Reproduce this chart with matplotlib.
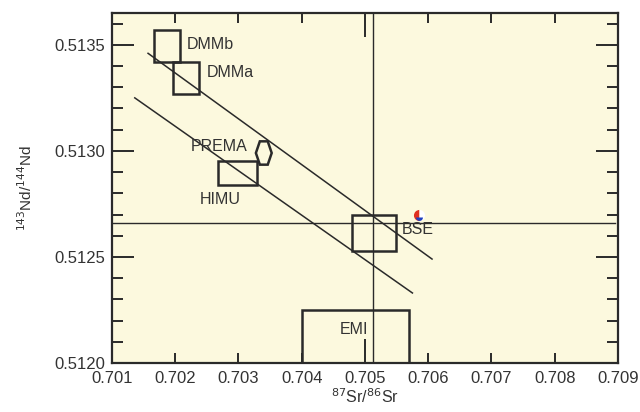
import matplotlib
matplotlib.use("Agg")
import matplotlib.pyplot as plt
from matplotlib.patches import Rectangle, Polygon
from matplotlib.ticker import MultipleLocator

plt.rcParams['font.family'] = ['Liberation Sans', 'DejaVu Sans']

# Reservoir boxes: name, x0, x1, y0, y1
box_names = ['DMMb', 'DMMa', 'HIMU', 'BSE', 'EMI']
box_x0 = [0.70166, 0.70196, 0.70267, 0.70479, 0.70400]
box_x1 = [0.70207, 0.70237, 0.70329, 0.70549, 0.70569]
box_y0 = [0.51342, 0.51327, 0.51284, 0.51253, 0.51200]
box_y1 = [0.51357, 0.51342, 0.51295, 0.51270, 0.51225]

# PREMA hexagon (centre and half-sizes)
prema_x, prema_y = 0.70340, 0.51299
prema_hw, prema_hh = 0.000125, 0.000055

# Mantle array lines
line1_x = [0.70157, 0.70606]
line1_y = [0.51346, 0.51249]
line2_x = [0.70136, 0.70575]
line2_y = [0.51325, 0.51233]

# Reference lines (BSE values)
bse_sr = 0.70513
bse_nd = 0.51266

# Sample point
pt_x, pt_y = 0.70585, 0.51270

# Labels
label_text = ['DMMb', 'DMMa', 'PREMA', 'HIMU', 'BSE', 'EMI']
label_x = [0.70218, 0.70250, 0.70315, 0.70239, 0.70558, 0.70482]
label_y = [0.51350, 0.51337, 0.51302, 0.51277, 0.51263, 0.51216]
label_ha = ['left', 'left', 'right', 'left', 'left', 'center']

fig = plt.figure(figsize=(6.4, 4.12), dpi=100)
ax = fig.add_axes([0.175, 0.119, 0.7906, 0.8494])
ax.set_facecolor('#fcf9de')
ax.set_xlim(0.701, 0.709)
ax.set_ylim(0.5120, 0.51365)

lc = '#2a2a2a'
for x0, x1, y0, y1 in zip(box_x0, box_x1, box_y0, box_y1):
    ax.add_patch(Rectangle((x0, y0), x1 - x0, y1 - y0, fill=False,
                           edgecolor=lc, linewidth=1.8, zorder=3))

hx = [prema_x - prema_hw, prema_x - prema_hw * 0.5, prema_x + prema_hw * 0.5,
      prema_x + prema_hw, prema_x + prema_hw * 0.5, prema_x - prema_hw * 0.5]
hy = [prema_y, prema_y + prema_hh, prema_y + prema_hh,
      prema_y, prema_y - prema_hh, prema_y - prema_hh]
ax.add_patch(Polygon(list(zip(hx, hy)), closed=True, fill=False,
                     edgecolor=lc, linewidth=1.8, zorder=3))

ax.plot(line1_x, line1_y, color=lc, linewidth=1.1, zorder=2)
ax.plot(line2_x, line2_y, color=lc, linewidth=1.1, zorder=2)
ax.axvline(bse_sr, color=lc, linewidth=1.0, zorder=2)
ax.plot([0.701, 0.70895], [bse_nd, bse_nd], color=lc, linewidth=1.0, zorder=2)

ax.plot([pt_x], [pt_y], marker='o', markersize=8, fillstyle='left',
        markerfacecolor='#e03020', markerfacecoloralt='#ffffff',
        markeredgecolor='none', zorder=5)
ax.plot([pt_x], [pt_y - 0.000012], marker='o', markersize=5, fillstyle='bottom',
        markerfacecolor='#2040c0', markerfacecoloralt='none',
        markeredgecolor='none', zorder=6)

for t, x, y, ha in zip(label_text, label_x, label_y, label_ha):
    ax.text(x, y, t, ha=ha, va='center', fontsize=11.5, color='#333333', zorder=4)

ax.xaxis.set_major_locator(MultipleLocator(0.001))
ax.yaxis.set_major_locator(MultipleLocator(0.0005))
ax.yaxis.set_minor_locator(MultipleLocator(0.0001))
ax.xaxis.set_major_formatter(matplotlib.ticker.FuncFormatter(lambda v, p: f'{v:.3f}'))
ax.yaxis.set_major_formatter(matplotlib.ticker.FuncFormatter(lambda v, p: f'{v:.4f}'))
ax.tick_params(axis='both', which='both', direction='in', top=True, right=True,
               color=lc, width=1.4, labelsize=12, labelcolor='#333333')
ax.tick_params(axis='y', which='major', length=16, pad=5)
ax.tick_params(axis='y', which='minor', length=8)
ax.tick_params(axis='x', which='major', length=7, pad=6)
fig.canvas.draw()
for tk in ax.xaxis.get_major_ticks():
    if abs(tk.get_loc() - 0.705) < 1e-6:
        tk.tick1line.set_markersize(17)
        tk.tick2line.set_markersize(17)

for s in ax.spines.values():
    s.set_linewidth(1.6)
    s.set_color(lc)

ax.set_xlabel(r'$^{87}$Sr/$^{86}$Sr', fontsize=11.5, color='#333333', labelpad=1)
ax.set_ylabel(r'$^{143}$Nd/$^{144}$Nd', fontsize=11, color='#333333', labelpad=14)

fig.savefig('out.png', dpi=100)
